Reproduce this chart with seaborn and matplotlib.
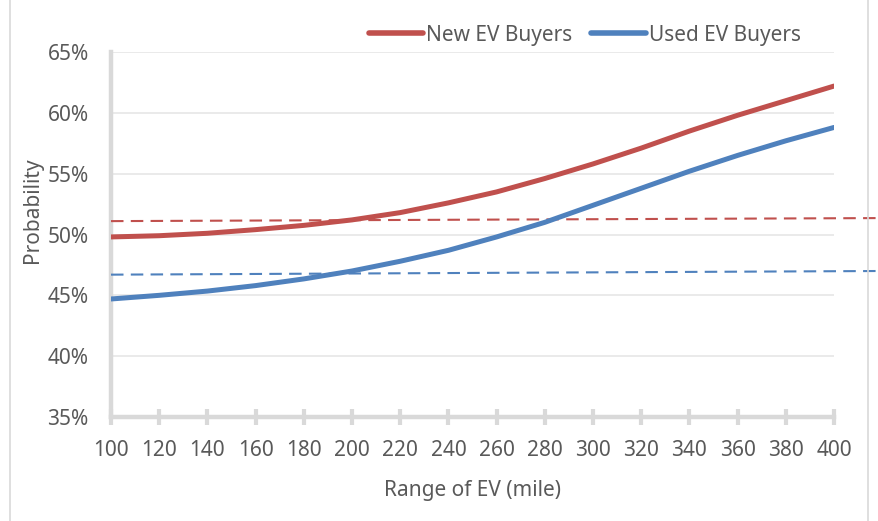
import matplotlib
matplotlib.use("Agg")
import matplotlib.pyplot as plt
import seaborn as sns
import pandas as pd
from matplotlib.ticker import FuncFormatter
from matplotlib.lines import Line2D

# ---- data ----
ranges = [100, 120, 140, 160, 180, 200, 220, 240, 260, 280, 300, 320, 340, 360, 380, 400]
new_ev = [49.8, 49.9, 50.1, 50.4, 50.75, 51.2, 51.8, 52.6, 53.5, 54.6, 55.8, 57.1, 58.5, 59.8, 61.0, 62.2]
used_ev = [44.7, 45.0, 45.35, 45.8, 46.35, 47.0, 47.8, 48.7, 49.8, 51.0, 52.4, 53.8, 55.2, 56.5, 57.7, 58.8]
ref_x = [100, 419]
new_ref = [51.1, 51.35]
used_ref = [46.7, 47.0]
series_names = ["New EV Buyers", "Used EV Buyers"]
x_ticks = list(range(100, 401, 20))
y_ticks = [35, 40, 45, 50, 55, 60, 65]

RED = "#C0504D"
BLUE = "#4F81BD"
TXT = "#595959"
AX = "#D9D9D9"
FS = 15

sns.set_theme(style="white")
plt.rcParams["font.family"] = ["Noto Sans", "DejaVu Sans"]

df = pd.DataFrame({
    "Range": ranges * 2,
    "Prob": new_ev + used_ev,
    "Series": [series_names[0]] * len(ranges) + [series_names[1]] * len(ranges),
})
df_ref = pd.DataFrame({
    "Range": ref_x * 2,
    "Prob": new_ref + used_ref,
    "Series": [series_names[0]] * 2 + [series_names[1]] * 2,
})

fig = plt.figure(figsize=(8.79, 5.21), dpi=100)
ax = fig.add_axes([111 / 879, 1 - 417 / 521, (834 - 111) / 879, (417 - 52) / 521])

palette = {series_names[0]: RED, series_names[1]: BLUE}

sns.lineplot(data=df_ref, x="Range", y="Prob", hue="Series", palette=palette,
             linewidth=1.5, ax=ax, legend=False, zorder=3)
for ln in ax.get_lines():
    ln.set_dashes((6, 3.5))
    ln.set_clip_on(False)

sns.lineplot(data=df, x="Range", y="Prob", hue="Series", palette=palette,
             linewidth=3.6, ax=ax, legend=False, zorder=4)
for ln in ax.get_lines()[2:]:
    ln.set_solid_capstyle("round")

ax.set_xlim(100, 400)
ax.set_ylim(35, 65)
ax.set_xticks(x_ticks)
ax.set_yticks(y_ticks)
ax.yaxis.set_major_formatter(FuncFormatter(lambda v, p: f"{v:.0f}%"))

ax.grid(axis="y", color="#E8E8E8", linewidth=1.3, zorder=0)
ax.set_axisbelow(True)
for s in ["top", "right"]:
    ax.spines[s].set_visible(False)
for s in ["left", "bottom"]:
    ax.spines[s].set_color(AX)
    ax.spines[s].set_linewidth(3.2)
    ax.spines[s].set_zorder(2)

ax.tick_params(axis="x", direction="inout", length=11, width=3, color=AX,
               labelsize=FS, labelcolor=TXT, pad=11, bottom=True)
ax.tick_params(axis="y", length=0, labelsize=FS, labelcolor=TXT, pad=16, left=False)

ax.set_xlabel("Range of EV (mile)", fontsize=FS, color=TXT, labelpad=14)
ax.set_ylabel("Probability", fontsize=FS, color=TXT)
ax.yaxis.set_label_coords(-(111 - 43) / 723, (417 - 210) / 365)

handles = [Line2D([0], [0], color=RED, lw=4, solid_capstyle="round"),
           Line2D([0], [0], color=BLUE, lw=4, solid_capstyle="round")]
fig.legend(handles, series_names, loc="center", bbox_to_anchor=(585 / 879, 1 - 35 / 521),
           ncol=2, frameon=False, fontsize=FS, labelcolor=TXT, handlelength=2.6,
           handletextpad=0.15, columnspacing=0.9)

# chart border lines
fig.add_artist(Line2D([10 / 879, 10 / 879], [0, 1], color=AX, lw=1.2, transform=fig.transFigure))
fig.add_artist(Line2D([868 / 879, 868 / 879], [0, 1], color=AX, lw=1.2, transform=fig.transFigure))

fig.savefig("out.png", dpi=100)
